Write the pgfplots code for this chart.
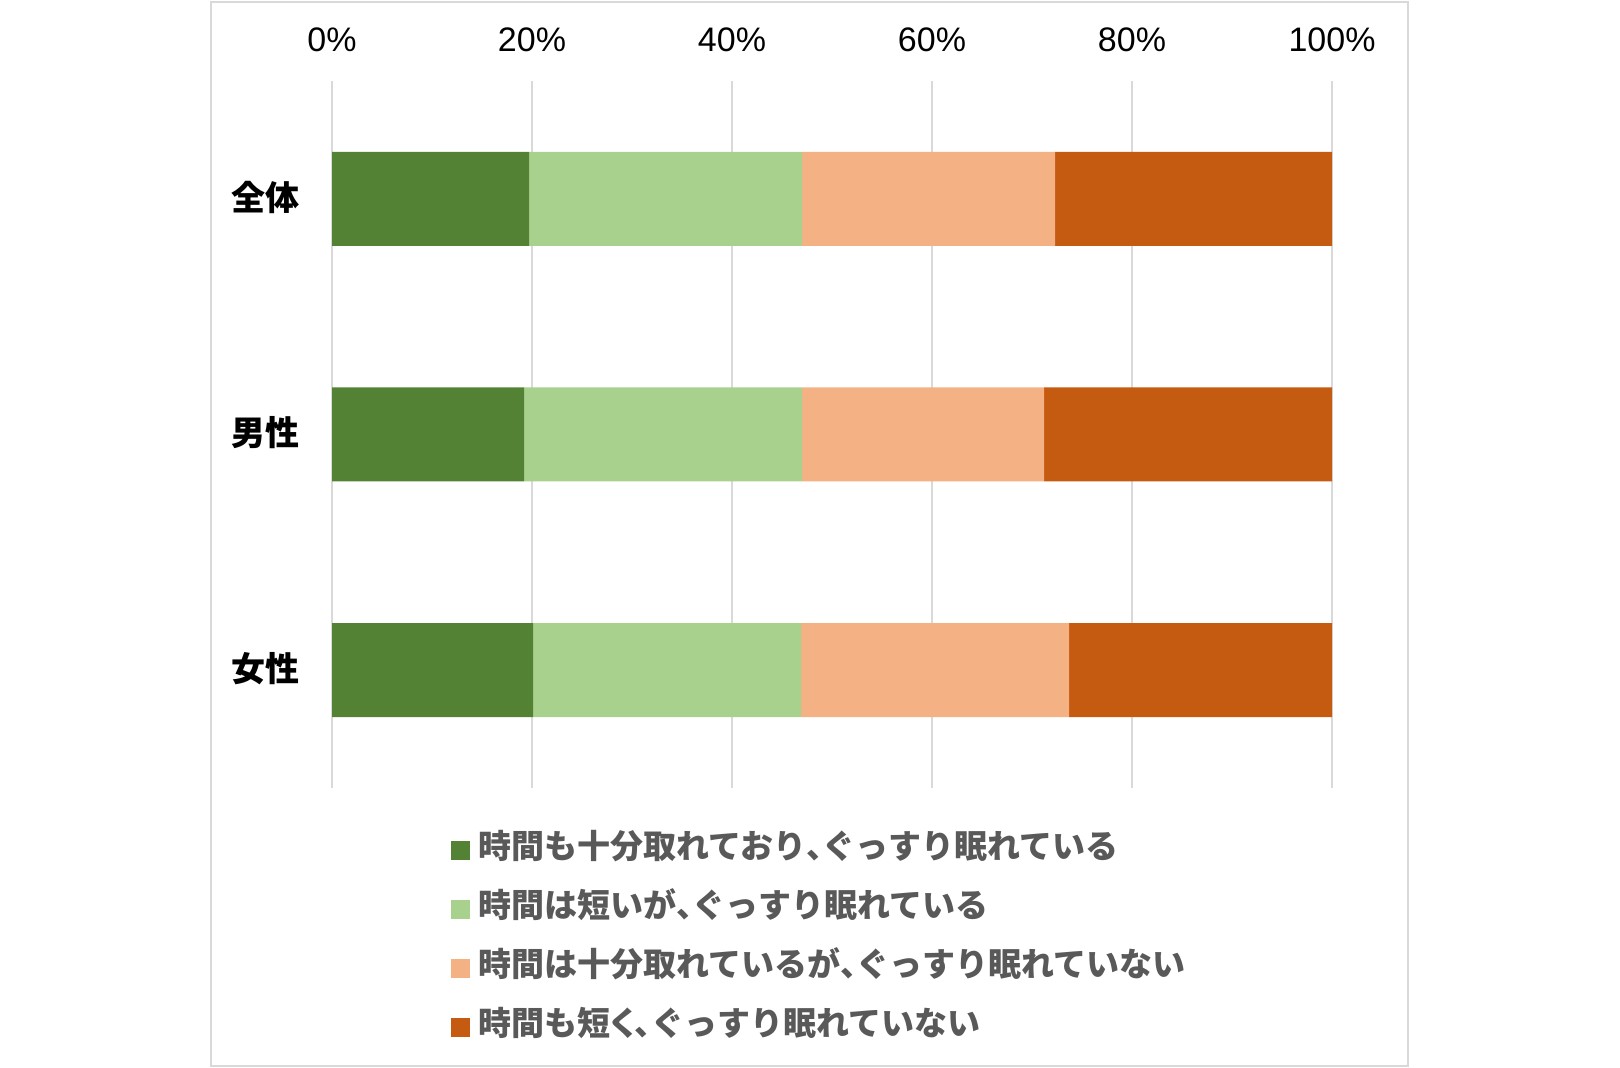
\documentclass[border=0pt]{standalone}
\usepackage{pgfplots}
\pgfplotsset{compat=1.18}
\usepackage{fontspec}
\setmainfont{Liberation Sans}
\newfontfamily\cjk{Noto Sans CJK JP}
\newfontfamily\cjkp[RawFeature=+palt]{Noto Sans CJK JP}
\newcommand{\tk}{{\cjkp 、}}
\definecolor{cA}{HTML}{548235}
\definecolor{cB}{HTML}{A9D18E}
\definecolor{cC}{HTML}{F4B183}
\definecolor{cD}{HTML}{C55A11}
\definecolor{gridc}{HTML}{D9D9D9}
\definecolor{legc}{HTML}{595959}
\begin{document}
\begin{tikzpicture}
\path[use as bounding box] (0,0) rectangle (810pt,534pt);
\draw[gridc, line width=1pt] (105.5pt,1pt) rectangle (704pt,533pt);
\begin{axis}[
  at={(166pt,140pt)}, anchor=south west,
  scale only axis, width=500pt, height=353.5pt,
  xbar stacked, bar width=47pt,
  xmin=0, xmax=100, ymin=-0.5, ymax=2.5,
  y dir=reverse,
  ytick={0,1,2},
  yticklabels={全体,男性,女性},
  xtick={0,20,40,60,80,100},
  xticklabel={\pgfmathprintnumber{\tick}\%},
  xticklabel pos=upper,
  /pgf/number format/assume math mode=true,
  xticklabel style={font=\fontsize{17}{20}\selectfont, anchor=base, yshift=14.7pt},
  yticklabel style={font=\cjk\bfseries\fontsize{17}{20}\selectfont, anchor=center, xshift=-33.5pt, yshift=0.8pt},
  axis line style={draw=none},
  major tick length=0pt,
  xmajorgrids, grid style={gridc, line width=0.8pt},
  legend style={at={(0.1188,-0.0638)}, anchor=north west, draw=none, fill=none,
    inner sep=0pt, row sep=12.5pt,
    font=\cjk\bfseries\fontsize{16.5}{19}\selectfont, text=legc,
    nodes={inner sep=0pt, text height=12.5pt, text depth=4.5pt},
    /tikz/every odd column/.append style={column sep=4.3pt}},
  legend cell align=left,
  legend image code/.code={\fill[#1] (0pt,-4.65pt) rectangle (9.3pt,4.65pt);},
]
\addplot[fill=cA, draw=none] coordinates {(19.7,0) (19.2,1) (20.1,2)};
\addplot[fill=cB, draw=none] coordinates {(27.3,0) (27.8,1) (26.8,2)};
\addplot[fill=cC, draw=none] coordinates {(25.3,0) (24.2,1) (26.8,2)};
\addplot[fill=cD, draw=none] coordinates {(27.7,0) (28.8,1) (26.3,2)};
\legend{時間も十分取れており\tk ぐっすり眠れている,時間は短いが\tk ぐっすり眠れている,時間は十分取れているが\tk ぐっすり眠れていない,時間も短{\cjkp く}\tk ぐっすり眠れていない}
\end{axis}
\end{tikzpicture}
\end{document}
